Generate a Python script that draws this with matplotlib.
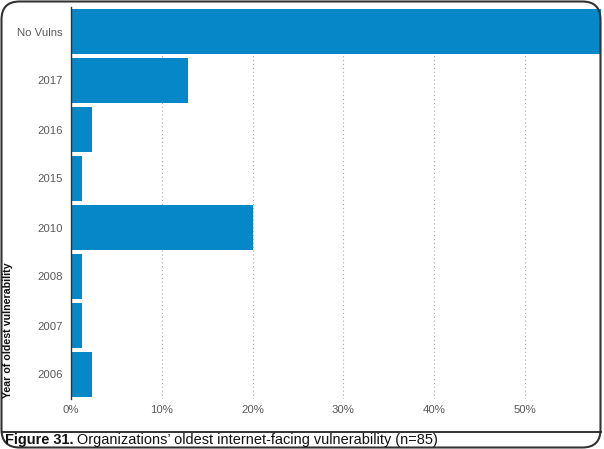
import matplotlib
matplotlib.use("Agg")
import matplotlib.pyplot as plt
from matplotlib.patches import FancyBboxPatch
from matplotlib.lines import Line2D

categories = ["No Vulns", "2017", "2016", "2015", "2010", "2008", "2007", "2006"]
values = [58.4, 12.94, 2.35, 1.18, 20.0, 1.18, 1.18, 2.35]
xticks = [0, 10, 20, 30, 40, 50]
xtick_labels = ["0%", "10%", "20%", "30%", "40%", "50%"]

W, H = 604, 449
fig = plt.figure(figsize=(W / 100, H / 100), dpi=100)
fig.patch.set_facecolor("white")

left, right, top, bottom = 71, 601, 7, 399
ax = fig.add_axes([left / W, 1 - bottom / H, (right - left) / W, (bottom - top) / H])

ypos = list(range(len(categories)))
ax.barh(ypos, values, height=0.9, color="#0587c8", zorder=2)
ax.set_ylim(len(categories) - 0.5, -0.5)
ax.set_xlim(0, 58.4)

ax.set_yticks(ypos)
ax.set_yticklabels(categories, fontsize=8.2, color="#5a5a5a", family="Liberation Sans")
ax.set_xticks(xticks)
ax.set_xticklabels(xtick_labels, fontsize=8.2, color="#5a5a5a", family="Liberation Sans")
ax.tick_params(axis="x", length=0, pad=4)
ax.tick_params(axis="y", length=0, pad=6)

ax.grid(axis="x", linestyle=(0, (1, 2.5)), color="#aaaaaa", linewidth=0.8, zorder=1)
for s in ["top", "right", "bottom"]:
    ax.spines[s].set_visible(False)
ax.spines["left"].set_color("#333333")
ax.spines["left"].set_linewidth(1.0)
ax.spines["left"].set_zorder(3)

# y label
fig.text(8 / W, 1 - 398 / H, "Year of oldest vulnerability", rotation=90,
         ha="center", va="bottom", fontsize=7.7, fontweight="bold",
         family=["Liberation Sans Narrow", "Liberation Sans"], color="#111111")

# caption
t1 = fig.text(5 / W, 1 - 440 / H, "Figure 31.", ha="left", va="center",
              fontsize=10.45, fontweight="bold", family="Liberation Sans", color="#111111")
fig.canvas.draw()
bb = t1.get_window_extent()
fig.text((bb.x1 + 3) / W, 1 - 440 / H,
         "Organizations\u2019 oldest internet-facing vulnerability (n=85)",
         ha="left", va="center", fontsize=10.45, family="Liberation Sans", color="#111111")

# separator line
fig.add_artist(Line2D([1.5 / W, 601 / W], [1 - 432 / H, 1 - 432 / H],
                      transform=fig.transFigure, color="#222222", linewidth=1.3))

# rounded border
box = FancyBboxPatch((1.5 / W, 1 - 447.5 / H), (600.5 - 1.5) / W, (447.5 - 1.5) / H,
                     boxstyle="round,pad=0,rounding_size=0.03",
                     transform=fig.transFigure, fill=False,
                     edgecolor="#333333", linewidth=1.5, mutation_aspect=W / H)
fig.add_artist(box)

fig.savefig("out.png", dpi=100, facecolor="white")
